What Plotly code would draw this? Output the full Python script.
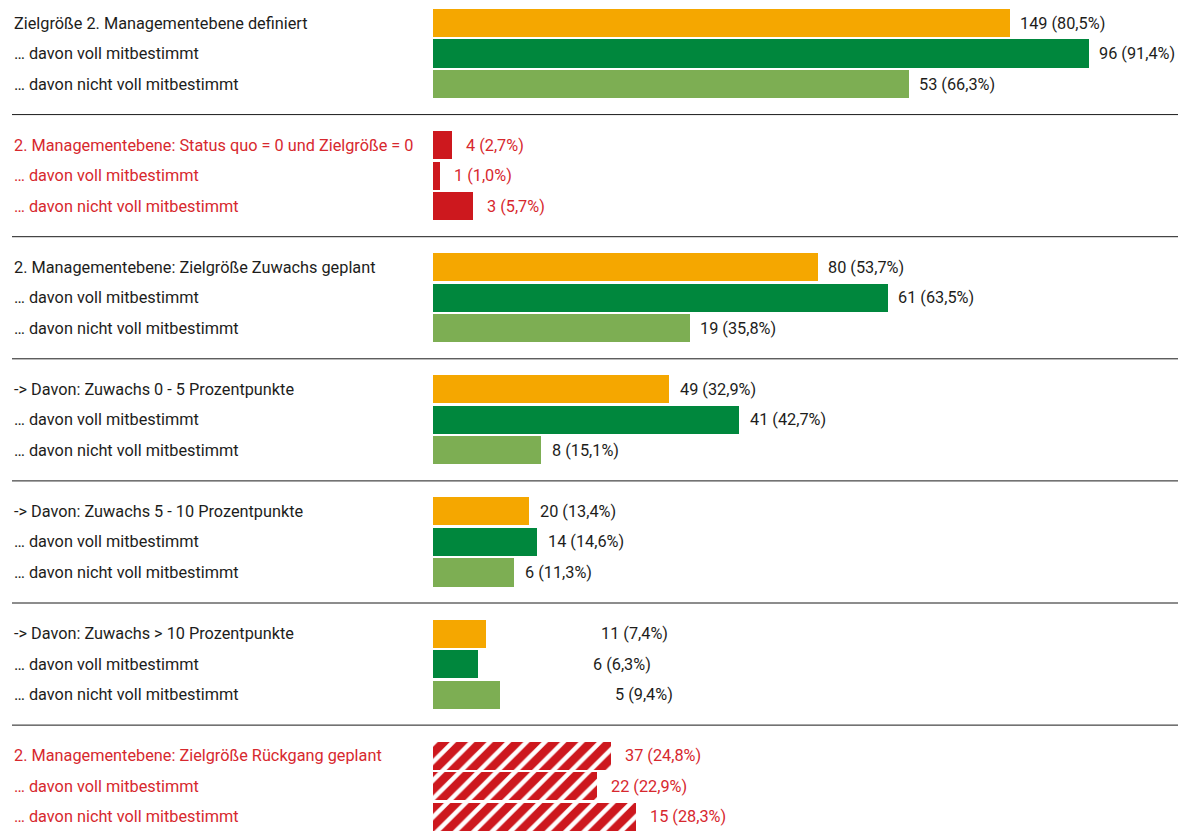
import plotly.graph_objects as go

# data
group_titles = [
    "Zielgröße 2. Managementebene definiert",
    "2. Managementebene: Status quo = 0 und Zielgröße = 0",
    "2. Managementebene: Zielgröße Zuwachs geplant",
    "-> Davon: Zuwachs 0 - 5 Prozentpunkte",
    "-> Davon: Zuwachs 5 - 10 Prozentpunkte",
    "-> Davon: Zuwachs > 10 Prozentpunkte",
    "2. Managementebene: Zielgröße Rückgang geplant",
]
sub_labels = ["… davon voll mitbestimmt", "… davon nicht voll mitbestimmt"]
counts = [
    [149, 96, 53],
    [4, 1, 3],
    [80, 61, 19],
    [49, 41, 8],
    [20, 14, 6],
    [11, 6, 5],
    [37, 22, 15],
]
shares = [
    [80.5, 91.4, 66.3],
    [2.7, 1.0, 5.7],
    [53.7, 63.5, 35.8],
    [32.9, 42.7, 15.1],
    [13.4, 14.6, 11.3],
    [7.4, 6.3, 9.4],
    [24.8, 22.9, 28.3],
]

# styling
ORANGE = "#f5a700"
GREEN = "#00873d"
LIGHT_GREEN = "#7dae53"
RED = "#cd181e"
TEXT_DARK = "#1d1d1b"
TEXT_RED = "#d7282e"
FONT = "Roboto, sans-serif"
FONT_SIZE = 16.3
red_groups = {1: "", 6: "/"}
label_gap = [8, 12, 8, 9, 9, 113, 12]  # px between bar end and value label

W, H = 1184, 835
x0_px, px_per_pct = 432.5, 7.18
y0_px, px_per_slot = 23, 30.53

ys, xs, colors, shapes = [], [], [], []
annotations = []
shape_list = []
for g, title in enumerate(group_titles):
    red = g in red_groups
    tcol = TEXT_RED if red else TEXT_DARK
    labels = [title] + sub_labels
    for r in range(3):
        y = g * 4 + r
        ys.append(y)
        xs.append(shares[g][r])
        if red:
            colors.append(RED)
            shapes.append(red_groups[g])
        else:
            colors.append([ORANGE, GREEN, LIGHT_GREEN][r])
            shapes.append("")
        annotations.append(dict(
            x=12 / W, xref="paper", y=y, yref="y", text=labels[r],
            xanchor="left", yanchor="middle", showarrow=False,
            font=dict(family=FONT, size=FONT_SIZE, color=tcol)))
        pct = f"{shares[g][r]:.1f}".replace(".", ",")
        annotations.append(dict(
            x=shares[g][r], xref="x", y=y, yref="y",
            text=f"{counts[g][r]} ({pct}%)",
            xanchor="left", yanchor="middle", showarrow=False,
            xshift=label_gap[g],
            font=dict(family=FONT, size=FONT_SIZE, color=tcol)))
    if g < len(group_titles) - 1:
        shape_list.append(dict(
            type="line", xref="paper", yref="y",
            x0=12 / W, x1=1178 / W, y0=g * 4 + 3, y1=g * 4 + 3,
            line=dict(color="#1a1a1a", width=1)))

fig = go.Figure(go.Bar(
    x=xs, y=ys, orientation="h", width=0.92,
    marker=dict(color=colors, line=dict(width=0),
                pattern=dict(shape=shapes, fgcolor="white", fgopacity=1,
                             size=13, solidity=0.35)),
    hoverinfo="skip",
))

fig.update_layout(
    width=W, height=H,
    margin=dict(l=0, r=0, t=0, b=0),
    paper_bgcolor="white", plot_bgcolor="white",
    showlegend=False,
    bargap=0,
    xaxis=dict(range=[-x0_px / px_per_pct, (W - x0_px) / px_per_pct],
               visible=False, fixedrange=True),
    yaxis=dict(range=[26 + (H - 816.7) / px_per_slot, -y0_px / px_per_slot],
               visible=False, fixedrange=True),
    annotations=annotations,
    shapes=shape_list,
)

fig.write_html("out.html", config={"displayModeBar": False},
               post_script="document.body.style.margin='0';document.body.style.overflow='hidden';")
